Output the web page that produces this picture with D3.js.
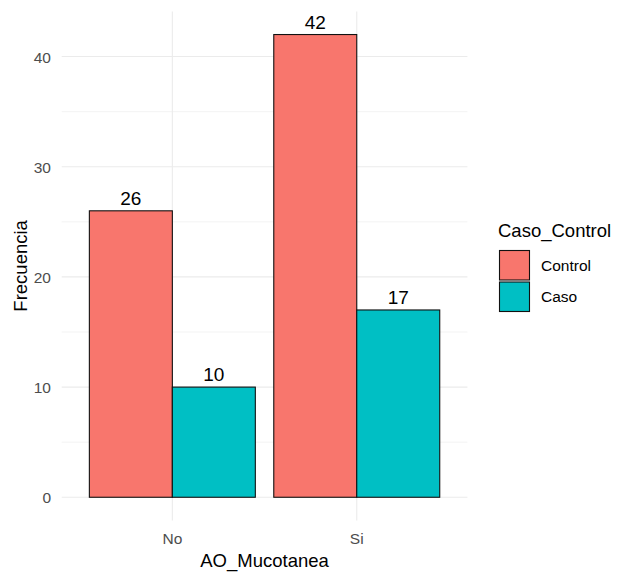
<!DOCTYPE html>
<html><head><meta charset="utf-8">
<script src="https://cdn.jsdelivr.net/npm/d3@7"></script>
<style>body{margin:0;background:#fff}svg{display:block}text{font-family:"Liberation Sans",Arial,sans-serif}</style>
</head><body><svg id="c" width="623" height="573"></svg>
<script>
const categories = ["No", "Si"];
const groups = ["Control", "Caso"];
const controlValues = [26, 42];
const casoValues = [10, 17];
const yTicks = [0, 10, 20, 30, 40];
const yMinor = [5, 15, 25, 35];
const colors = ["#F8766D", "#00BFC4"];

const data = [];
categories.forEach((c, i) => {
  data.push({cat: c, grp: "Control", v: controlValues[i]});
  data.push({cat: c, grp: "Caso", v: casoValues[i]});
});

const svg = d3.select("#c");
const pLeft = 61.7, pRight = 467.4, pTop = 11.4, pBottom = 520.4;
const y = d3.scaleLinear().domain([-2.1, 44.1]).range([pBottom, pTop]);
const x = d3.scaleBand().domain(categories).range([pLeft, pRight]).paddingInner(0.1).paddingOuter(0.15);
const xg = d3.scaleBand().domain(groups).range([0, x.bandwidth()]);
const color = d3.scaleOrdinal().domain(groups).range(colors);

const grid = svg.append("g");
grid.selectAll(".mn").data(yMinor).join("line")
  .attr("x1", pLeft).attr("x2", pRight).attr("y1", d => y(d)).attr("y2", d => y(d))
  .attr("stroke", "#EBEBEB").attr("stroke-width", 0.6);
grid.selectAll(".mj").data(yTicks).join("line")
  .attr("x1", pLeft).attr("x2", pRight).attr("y1", d => y(d)).attr("y2", d => y(d))
  .attr("stroke", "#EBEBEB").attr("stroke-width", 1.1);
grid.selectAll(".vx").data(categories).join("line")
  .attr("x1", d => x(d) + x.bandwidth()/2).attr("x2", d => x(d) + x.bandwidth()/2)
  .attr("y1", pTop).attr("y2", pBottom)
  .attr("stroke", "#EBEBEB").attr("stroke-width", 1.1);

svg.append("g").selectAll("rect").data(data).join("rect")
  .attr("x", d => x(d.cat) + xg(d.grp))
  .attr("width", xg.bandwidth())
  .attr("y", d => y(d.v))
  .attr("height", d => y(0) - y(d.v))
  .attr("fill", d => color(d.grp))
  .attr("stroke", "#111").attr("stroke-width", 1.1);

svg.append("g").selectAll("text").data(data).join("text")
  .attr("x", d => x(d.cat) + xg(d.grp) + xg.bandwidth()/2)
  .attr("y", d => y(d.v) - 6)
  .attr("text-anchor", "middle").attr("font-size", 19).attr("fill", "#000")
  .text(d => d.v);

const yAxis = d3.axisLeft(y).tickValues(yTicks).tickSize(0).tickPadding(0);
const ya = svg.append("g").attr("transform", `translate(51,0)`).call(yAxis);
ya.select(".domain").remove();
ya.selectAll("text").attr("font-size", 15.5).attr("fill", "#4D4D4D").attr("font-family", "Liberation Sans, Arial, sans-serif").attr("dy", "0.35em");

const xAxis = d3.axisBottom(x).tickSize(0).tickPadding(0);
const xa = svg.append("g").attr("transform", `translate(0,530)`).call(xAxis);
xa.select(".domain").remove();
xa.selectAll("text").attr("font-size", 15.5).attr("fill", "#4D4D4D").attr("font-family", "Liberation Sans, Arial, sans-serif").attr("dy", "0.9em");

svg.append("text").attr("x", (pLeft + pRight)/2).attr("y", 567).attr("text-anchor", "middle")
  .attr("font-size", 18.5).attr("fill", "#000").text("AO_Mucotanea");
svg.append("text").attr("transform", `translate(27,${(pTop+pBottom)/2}) rotate(-90)`).attr("text-anchor", "middle")
  .attr("font-size", 18.5).attr("fill", "#000").text("Frecuencia");

const lg = svg.append("g");
lg.append("text").attr("x", 498).attr("y", 237).attr("font-size", 18.5).attr("fill", "#000").text("Caso_Control");
groups.forEach((g, i) => {
  const ky = 250.5 + i * 31.5;
  lg.append("rect").attr("x", 499.5).attr("y", ky).attr("width", 30).attr("height", 29.5)
    .attr("fill", color(g)).attr("stroke", "#111").attr("stroke-width", 1.1);
  lg.append("text").attr("x", 541).attr("y", ky + 15).attr("dy", "0.35em")
    .attr("font-size", 15.5).attr("fill", "#000").text(g);
});
</script></body></html>
